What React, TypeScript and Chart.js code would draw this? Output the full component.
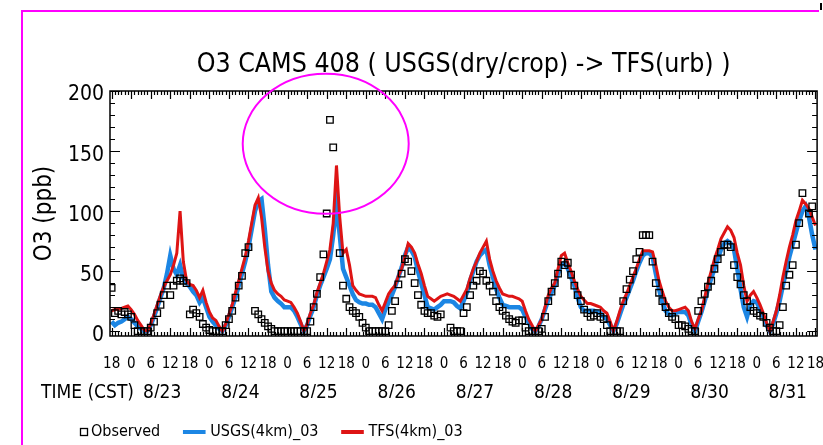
import React, { useEffect, useRef } from "react";
import { Chart, registerables } from "chart.js";

Chart.register(...registerables);

const FONT = '"Liberation Sans Narrow", "DejaVu Sans Condensed", "Arial Narrow", sans-serif';

const TITLE = "O3 CAMS 408 ( USGS(dry/crop) -> TFS(urb) )";
const Y_TITLE = "O3 (ppb)";
const X_TITLE = "TIME (CST)";
const DATE_LABELS = ["8/23", "8/24", "8/25", "8/26", "8/27", "8/28", "8/29", "8/30", "8/31"];
const Y_TICKS = [0, 50, 100, 150, 200];
const START_HOUR = 18; // first hourly sample = 8/22 18:00 CST

// Hourly observed O3 (ppb); null = no observation
const observed: (number | null)[] = [
  // 8/22 18-23
  36, 15, 17, 14, 16, 14,
  // 8/23
  12, 5, 0, 0, 0, 0, 3, 8, 15, 22, 30, 38, 30, 38, 42, 44, 42, 40, 14, 18, 15, 12, 6, 3,
  // 8/24
  1, 0, 0, 0, 0, 5, 10, 17, 28, 38, 46, 65, 70, null, 17, 14, 10, 7, 4, 2, 0, 0, 0, 0,
  // 8/25
  0, 0, 0, 0, 0, 0, 0, 8, 20, 31, 45, 64, 98, 176, 153, null, 65, 38, 27, 20, 17, 15, 12, 7,
  // 8/26
  3, 0, 0, 0, 0, 0, 0, 5, 17, 25, 39, 48, 60, 58, 50, 40, 30, 22, 17, 15, 15, 13, 12, 14,
  // 8/27
  null, null, 3, 0, 0, 0, 15, 20, 30, 38, 42, 50, 48, 42, 38, 33, 25, 20, 17, 13, 10, 8, 7, 9,
  // 8/28
  9, 3, 0, 0, 0, 0, 2, 12, 25, 33, 40, 48, 58, 55, 57, 47, 38, 30, 25, 18, 15, 12, 13, 15,
  // 8/29
  12, 10, 5, 0, 0, 0, 0, 25, 35, 43, 50, 60, 66, 80, 80, 80, 58, 40, 32, 25, 20, 15, 12, 10,
  // 8/30
  5, 5, 4, 2, 0, 0, 17, 25, 31, 37, 42, 52, 60, 66, 72, 72, 70, 55, 45, 39, 30, 25, 20, 17,
  // 8/31 0-18
  15, 13, 12, 7, 3, 0, 0, 5, 20, 38, 47, 55, 72, 90, 115, null, 98, 104, null,
];

// USGS(4km)_03 model (ppb)
const usgs: number[] = [
  8, 5, 7, 8, 10, 12,
  10, 7, 4, 2, 0, 0, 5, 12, 20, 28, 36, 48, 63, 52, 47, 55, 44, 40, 37, 33, 30, 24, 28, 20,
  12, 8, 5, 2, 0, 5, 12, 20, 28, 38, 48, 58, 70, 85, 100, 108, 110, 85, 55, 33, 28, 25, 23, 20,
  20, 20, 17, 12, 6, 0, 5, 13, 20, 30, 38, 45, 52, 60, 80, 105, 80, 52, 45, 38, 31, 26, 24, 23,
  23, 22, 22, 20, 15, 10, 18, 24, 30, 37, 45, 53, 63, 70, 67, 62, 50, 40, 30, 20, 19, 18, 20, 22,
  25, 25, 25, 24, 21, 19, 25, 32, 42, 50, 58, 63, 66, 68, 55, 45, 35, 28, 22, 21, 20, 20, 20, 20,
  18, 12, 7, 2, 0, 4, 10, 18, 26, 32, 38, 48, 55, 57, 52, 45, 38, 28, 20, 17, 17, 17, 17, 16,
  15, 12, 10, 5, 0, 6, 14, 22, 28, 35, 42, 50, 57, 63, 65, 65, 62, 48, 35, 24, 17, 14, 13, 15,
  16, 16, 16, 13, 5, 0, 8, 16, 25, 35, 44, 52, 60, 68, 73, 75, 73, 68, 52, 35, 20, 12, 22, 25,
  24, 18, 12, 5, 0, 6, 15, 25, 38, 50, 62, 72, 82, 92, 100, 104, 95, 80, 68,
];

// TFS(4km)_03 model (ppb)
const tfs: number[] = [
  17, 18, 18, 19, 20, 21,
  18, 14, 9, 5, 1, 0, 6, 14, 22, 30, 37, 42, 47, 55, 65, 100, 58, 42, 39, 38, 34, 28, 34, 24,
  16, 11, 9, 4, 0, 6, 14, 22, 32, 42, 52, 62, 75, 90, 105, 111, 95, 70, 50, 40, 34, 31, 29, 26,
  25, 24, 20, 15, 8, 0, 6, 15, 22, 32, 40, 48, 58, 68, 90, 138, 95, 65, 68, 55, 38, 34, 31, 30,
  29, 29, 29, 28, 22, 17, 24, 31, 35, 38, 46, 52, 62, 73, 70, 65, 56, 48, 38, 29, 27, 25, 27, 29,
  30, 31, 30, 29, 27, 25, 30, 35, 44, 52, 58, 65, 70, 75, 60, 50, 42, 36, 31, 30, 29, 29, 28, 27,
  25, 17, 10, 5, 0, 5, 10, 20, 30, 36, 40, 52, 63, 65, 57, 50, 42, 35, 29, 26, 23, 23, 22, 21,
  20, 17, 15, 8, 0, 8, 17, 25, 31, 38, 45, 52, 60, 67, 67, 67, 66, 55, 42, 33, 25, 20, 17, 17,
  18, 19, 20, 17, 8, 2, 10, 17, 28, 40, 50, 60, 68, 77, 82, 87, 84, 78, 65, 55, 38, 25, 30, 33,
  28, 22, 15, 7, 0, 8, 17, 30, 45, 58, 70, 80, 92, 100, 109, 106, 102, 95, 88,
];

// hours since 8/22 18:00
const hours: number[] = observed.map((_, i) => i);
const LAST_HOUR = hours[hours.length - 1];
const HOUR_TICKS: number[] = hours.filter((h) => h % 6 === 0);
const DATE_TICKS: number[] = DATE_LABELS.map((_, k) => 6 + 24 * k + 9.5);

const BLUE = "rgb(28,134,228)";
const RED = "rgb(222,20,20)";

function makeObsIcon(): HTMLCanvasElement {
  const c = document.createElement("canvas");
  c.width = 28;
  c.height = 10;
  const g = c.getContext("2d")!;
  g.strokeStyle = "#000";
  g.lineWidth = 1.3;
  g.strokeRect(19.5, 1.5, 7, 7);
  return c;
}

export default function App() {
  const ref = useRef<HTMLCanvasElement | null>(null);

  useEffect(() => {
    if (!ref.current) return;
    Chart.defaults.color = "#000";
    const obsIcon = makeObsIcon();

    const decor = {
      id: "decor",
      afterLayout(chart: any) {
        const lg = chart.legend;
        if (lg) {
          const dx = 41 - lg.left;
          lg.left += dx;
          lg.right += dx;
        }
      },
      afterDraw(chart: any) {
        const { ctx, chartArea: a, scales } = chart;
        const x = scales.x;
        const y = scales.y;
        ctx.save();
        ctx.strokeStyle = "#000";
        ctx.lineWidth = 1.5;
        ctx.strokeRect(a.left, a.top, a.right - a.left, a.bottom - a.top);
        ctx.lineWidth = 1.2;
        ctx.beginPath();
        for (const h of hours) {
          const px = Math.round(x.getPixelForValue(h)) + 0.5;
          const len = h % 6 === 0 ? 8 : 4;
          ctx.moveTo(px, a.bottom);
          ctx.lineTo(px, a.bottom - len);
          ctx.moveTo(px, a.top);
          ctx.lineTo(px, a.top + len);
        }
        for (let v = 0; v <= 200; v += 10) {
          const py = Math.round(y.getPixelForValue(v)) + 0.5;
          const len = v % 50 === 0 ? 10 : 5;
          ctx.moveTo(a.left, py);
          ctx.lineTo(a.left + len, py);
          ctx.moveTo(a.right, py);
          ctx.lineTo(a.right - len, py);
        }
        ctx.stroke();

        // x axis title, on the date row
        const x2 = scales.x2;
        ctx.fillStyle = "#000";
        ctx.font = `19px ${FONT}`;
        ctx.textAlign = "left";
        ctx.textBaseline = "middle";
        ctx.fillText(X_TITLE, 41, x2.top + 17.5);

        // magenta annotation frame + ellipse
        ctx.strokeStyle = "#ff00ff";
        ctx.lineWidth = 2;
        ctx.beginPath();
        ctx.moveTo(22, 445);
        ctx.lineTo(22, 11);
        ctx.lineTo(819, 11);
        ctx.stroke();
        ctx.beginPath();
        ctx.ellipse(x.getPixelForValue(65.7), y.getPixelForValue(156), 83, 70, 0, 0, Math.PI * 2);
        ctx.stroke();
        ctx.fillStyle = "#000";
        ctx.fillRect(820, 3, 2, 7);
        ctx.restore();
      },
    };

    const chart = new Chart(ref.current, {
      type: "line",
      data: {
        labels: hours,
        datasets: [
          {
            label: "Observed",
            data: observed,
            showLine: false,
            pointStyle: "rect",
            pointRadius: 4.6,
            pointBorderWidth: 1.3,
            pointBorderColor: "#000",
            pointBackgroundColor: "rgba(0,0,0,0)",
            borderColor: "#000",
            backgroundColor: "rgba(0,0,0,0)",
            order: 0,
          },
          {
            label: "USGS(4km)_03",
            data: usgs,
            borderColor: BLUE,
            backgroundColor: BLUE,
            borderWidth: 4.5,
            pointRadius: 0,
            pointStyle: "line",
            order: 2,
          },
          {
            label: "TFS(4km)_03",
            data: tfs,
            borderColor: RED,
            backgroundColor: RED,
            borderWidth: 3,
            pointRadius: 0,
            pointStyle: "line",
            order: 1,
          },
        ],
      },
      options: {
        responsive: false,
        animation: false,
        events: [],
        layout: { padding: { left: 0, right: 5, top: 0, bottom: -5 } },
        plugins: {
          title: {
            display: true,
            text: TITLE,
            fullSize: false,
            color: "#000",
            font: { family: FONT, size: 26.5, weight: "normal" },
            padding: { top: 49, bottom: 10.2 },
          },
          legend: {
            position: "bottom",
            align: "start",
            labels: {
              color: "#000",
              font: { family: FONT, size: 16 },
              usePointStyle: true,
              boxWidth: 16,
              boxHeight: 16,
              padding: 26,
              sort: (a: any, b: any) => a.datasetIndex - b.datasetIndex,
              generateLabels: (ch: any) => {
                const items = (Chart.defaults.plugins.legend.labels as any).generateLabels(ch);
                items.forEach((it: any) => {
                  if (it.datasetIndex === 0) {
                    it.pointStyle = obsIcon;
                  } else {
                    it.pointStyle = "line";
                    it.lineWidth = 4;
                  }
                });
                return items;
              },
            },
          },
          tooltip: { enabled: false },
        },
        scales: {
          x: {
            type: "linear",
            min: -0.5,
            max: LAST_HOUR + 0.5,
            position: "bottom",
            weight: 0,
            grid: { display: false, drawTicks: false },
            border: { display: false },
            afterBuildTicks: (s: any) => {
              s.ticks = HOUR_TICKS.map((v) => ({ value: v }));
            },
            afterFit: (s: any) => {
              s.height = 40;
              s.paddingLeft = 0;
              s.paddingRight = 0;
            },
            ticks: {
              autoSkip: false,
              maxRotation: 0,
              minRotation: 0,
              padding: 19,
              color: "#000",
              font: { family: FONT, size: 15 },
              callback: (v: any) => String((START_HOUR + Number(v)) % 24),
            },
          },
          x2: {
            type: "linear",
            min: -0.5,
            max: LAST_HOUR + 0.5,
            position: "bottom",
            weight: 1,
            grid: { display: false, drawTicks: false },
            border: { display: false },
            afterBuildTicks: (s: any) => {
              s.ticks = DATE_TICKS.map((v) => ({ value: v }));
            },
            afterFit: (s: any) => {
              s.height = 22;
              s.paddingLeft = 0;
              s.paddingRight = 0;
            },
            ticks: {
              autoSkip: false,
              maxRotation: 0,
              minRotation: 0,
              padding: 6,
              color: "#000",
              font: { family: FONT, size: 19 },
              callback: (_v: any, i: number) => DATE_LABELS[i],
            },
          },
          y: {
            type: "linear",
            min: -4,
            max: 200,
            grid: { display: false, drawTicks: false },
            border: { display: false },
            afterBuildTicks: (s: any) => {
              s.ticks = Y_TICKS.map((v) => ({ value: v }));
            },
            afterFit: (s: any) => {
              s.width = 110;
              s.paddingTop = 0;
              s.paddingBottom = 0;
            },
            ticks: {
              padding: 6,
              labelOffset: 4,
              color: "#000",
              font: { family: FONT, size: 21 },
            },
            title: {
              display: true,
              text: Y_TITLE,
              color: "#000",
              font: { family: FONT, size: 24 },
              padding: { top: 30, bottom: 0 },
            },
          },
        },
      },
      plugins: [decor],
    } as any);

    return () => chart.destroy();
  }, []);

  return (
    <div style={{ position: "absolute", left: 0, top: 0, width: 823, height: 445, background: "#fff" }}>
      <canvas ref={ref} width={823} height={445} style={{ display: "block" }} />
    </div>
  );
}
